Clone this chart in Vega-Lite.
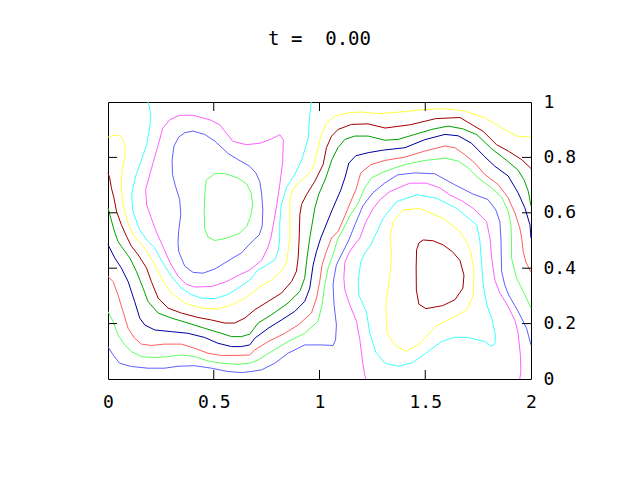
{
  "$schema": "https://vega.github.io/schema/vega-lite/v6.json",
  "width": 423,
  "height": 277,
  "autosize": {"type": "none"},
  "padding": {"left": 108, "top": 102, "right": 109, "bottom": 101},
  "background": "white",
  "title": {"text": "t = \u00a00.00", "font": "DejaVu Sans Mono", "fontSize": 19, "fontWeight": "normal", "color": "black", "anchor": "middle", "offset": 29, "baseline": "alphabetic"},
  "config": {"view": {"stroke": "black", "strokeWidth": 1},
             "axis": {"title": null, "grid": false, "domain": false, "ticks": false, "labelFont": "DejaVu Sans Mono", "labelFontSize": 18, "labelColor": "black", "labelFlush": false}},
  "data": {"values": [
{"c":"g1","i":0,"x":0.505,"y":0.742},{"c":"g1","i":1,"x":0.552,"y":0.742},{"c":"g1","i":2,"x":0.614,"y":0.726},{"c":"g1","i":3,"x":0.656,"y":0.704},{"c":"g1","i":4,"x":0.677,"y":0.672},{"c":"g1","i":5,"x":0.684,"y":0.628},{"c":"g1","i":6,"x":0.675,"y":0.589},{"c":"g1","i":7,"x":0.656,"y":0.552},{"c":"g1","i":8,"x":0.623,"y":0.527},{"c":"g1","i":9,"x":0.566,"y":0.509},{"c":"g1","i":10,"x":0.505,"y":0.5},{"c":"g1","i":11,"x":0.472,"y":0.513},{"c":"g1","i":12,"x":0.457,"y":0.545},{"c":"g1","i":13,"x":0.455,"y":0.603},{"c":"g1","i":14,"x":0.457,"y":0.665},{"c":"g1","i":15,"x":0.465,"y":0.719},{"c":"g1","i":16,"x":0.505,"y":0.742},
{"c":"b1","i":0,"x":0.67,"y":0.768},{"c":"b1","i":1,"x":0.615,"y":0.792},{"c":"b1","i":2,"x":0.568,"y":0.814},{"c":"b1","i":3,"x":0.505,"y":0.859},{"c":"b1","i":4,"x":0.457,"y":0.883},{"c":"b1","i":5,"x":0.402,"y":0.895},{"c":"b1","i":6,"x":0.363,"y":0.889},{"c":"b1","i":7,"x":0.334,"y":0.873},{"c":"b1","i":8,"x":0.312,"y":0.841},{"c":"b1","i":9,"x":0.303,"y":0.792},{"c":"b1","i":10,"x":0.305,"y":0.738},{"c":"b1","i":11,"x":0.319,"y":0.696},{"c":"b1","i":12,"x":0.339,"y":0.648},{"c":"b1","i":13,"x":0.344,"y":0.593},{"c":"b1","i":14,"x":0.334,"y":0.533},{"c":"b1","i":15,"x":0.331,"y":0.491},{"c":"b1","i":16,"x":0.334,"y":0.461},{"c":"b1","i":17,"x":0.363,"y":0.407},{"c":"b1","i":18,"x":0.402,"y":0.385},{"c":"b1","i":19,"x":0.449,"y":0.382},{"c":"b1","i":20,"x":0.505,"y":0.397},{"c":"b1","i":21,"x":0.584,"y":0.434},{"c":"b1","i":22,"x":0.631,"y":0.455},{"c":"b1","i":23,"x":0.661,"y":0.48},{"c":"b1","i":24,"x":0.689,"y":0.502},{"c":"b1","i":25,"x":0.715,"y":0.52},{"c":"b1","i":26,"x":0.729,"y":0.552},{"c":"b1","i":27,"x":0.732,"y":0.61},{"c":"b1","i":28,"x":0.727,"y":0.665},{"c":"b1","i":29,"x":0.718,"y":0.712},{"c":"b1","i":30,"x":0.699,"y":0.744},{"c":"b1","i":31,"x":0.67,"y":0.768},
{"c":"m1","i":0,"x":0.401,"y":0.952},{"c":"m1","i":1,"x":0.481,"y":0.936},{"c":"m1","i":2,"x":0.528,"y":0.918},{"c":"m1","i":3,"x":0.59,"y":0.858},{"c":"m1","i":4,"x":0.654,"y":0.846},{"c":"m1","i":5,"x":0.718,"y":0.851},{"c":"m1","i":6,"x":0.774,"y":0.867},{"c":"m1","i":7,"x":0.812,"y":0.882},{"c":"m1","i":8,"x":0.829,"y":0.864},{"c":"m1","i":9,"x":0.826,"y":0.784},{"c":"m1","i":10,"x":0.812,"y":0.701},{"c":"m1","i":11,"x":0.798,"y":0.628},{"c":"m1","i":12,"x":0.784,"y":0.567},{"c":"m1","i":13,"x":0.77,"y":0.509},{"c":"m1","i":14,"x":0.755,"y":0.473},{"c":"m1","i":15,"x":0.727,"y":0.429},{"c":"m1","i":16,"x":0.67,"y":0.393},{"c":"m1","i":17,"x":0.623,"y":0.377},{"c":"m1","i":18,"x":0.561,"y":0.352},{"c":"m1","i":19,"x":0.491,"y":0.334},{"c":"m1","i":20,"x":0.41,"y":0.332},{"c":"m1","i":21,"x":0.368,"y":0.343},{"c":"m1","i":22,"x":0.33,"y":0.372},{"c":"m1","i":23,"x":0.292,"y":0.422},{"c":"m1","i":24,"x":0.263,"y":0.473},{"c":"m1","i":25,"x":0.235,"y":0.52},{"c":"m1","i":26,"x":0.211,"y":0.567},{"c":"m1","i":27,"x":0.183,"y":0.628},{"c":"m1","i":28,"x":0.178,"y":0.683},{"c":"m1","i":29,"x":0.197,"y":0.737},{"c":"m1","i":30,"x":0.228,"y":0.82},{"c":"m1","i":31,"x":0.259,"y":0.905},{"c":"m1","i":32,"x":0.292,"y":0.936},{"c":"m1","i":33,"x":0.339,"y":0.952},{"c":"m1","i":34,"x":0.401,"y":0.952},
{"c":"c1","i":0,"x":0.19,"y":1.0},{"c":"c1","i":1,"x":0.2,"y":0.965},{"c":"c1","i":2,"x":0.2,"y":0.921},{"c":"c1","i":3,"x":0.183,"y":0.846},{"c":"c1","i":4,"x":0.155,"y":0.784},{"c":"c1","i":5,"x":0.131,"y":0.733},{"c":"c1","i":6,"x":0.112,"y":0.668},{"c":"c1","i":7,"x":0.117,"y":0.607},{"c":"c1","i":8,"x":0.136,"y":0.567},{"c":"c1","i":9,"x":0.15,"y":0.538},{"c":"c1","i":10,"x":0.188,"y":0.498},{"c":"c1","i":11,"x":0.221,"y":0.473},{"c":"c1","i":12,"x":0.259,"y":0.419},{"c":"c1","i":13,"x":0.299,"y":0.372},{"c":"c1","i":14,"x":0.346,"y":0.328},{"c":"c1","i":15,"x":0.394,"y":0.305},{"c":"c1","i":16,"x":0.441,"y":0.292},{"c":"c1","i":17,"x":0.505,"y":0.29},{"c":"c1","i":18,"x":0.566,"y":0.305},{"c":"c1","i":19,"x":0.614,"y":0.328},{"c":"c1","i":20,"x":0.67,"y":0.357},{"c":"c1","i":21,"x":0.708,"y":0.393},{"c":"c1","i":22,"x":0.755,"y":0.413},{"c":"c1","i":23,"x":0.789,"y":0.431},{"c":"c1","i":24,"x":0.805,"y":0.462},{"c":"c1","i":25,"x":0.812,"y":0.509},{"c":"c1","i":26,"x":0.812,"y":0.56},{"c":"c1","i":27,"x":0.819,"y":0.628},{"c":"c1","i":28,"x":0.843,"y":0.69},{"c":"c1","i":29,"x":0.883,"y":0.739},{"c":"c1","i":30,"x":0.916,"y":0.791},{"c":"c1","i":31,"x":0.947,"y":0.871},{"c":"c1","i":32,"x":0.954,"y":0.954},{"c":"c1","i":33,"x":0.961,"y":1.0},
{"c":"y1","i":0,"x":0,"y":0.873},{"c":"y1","i":1,"x":0.022,"y":0.879},{"c":"y1","i":2,"x":0.055,"y":0.879},{"c":"y1","i":3,"x":0.071,"y":0.865},{"c":"y1","i":4,"x":0.082,"y":0.835},{"c":"y1","i":5,"x":0.079,"y":0.798},{"c":"y1","i":6,"x":0.066,"y":0.751},{"c":"y1","i":7,"x":0.063,"y":0.69},{"c":"y1","i":8,"x":0.071,"y":0.63},{"c":"y1","i":9,"x":0.095,"y":0.563},{"c":"y1","i":10,"x":0.118,"y":0.522},{"c":"y1","i":11,"x":0.142,"y":0.498},{"c":"y1","i":12,"x":0.174,"y":0.473},{"c":"y1","i":13,"x":0.221,"y":0.413},{"c":"y1","i":14,"x":0.26,"y":0.353},{"c":"y1","i":15,"x":0.3,"y":0.31},{"c":"y1","i":16,"x":0.363,"y":0.274},{"c":"y1","i":17,"x":0.442,"y":0.256},{"c":"y1","i":18,"x":0.52,"y":0.252},{"c":"y1","i":19,"x":0.584,"y":0.268},{"c":"y1","i":20,"x":0.647,"y":0.292},{"c":"y1","i":21,"x":0.708,"y":0.328},{"c":"y1","i":22,"x":0.773,"y":0.358},{"c":"y1","i":23,"x":0.82,"y":0.389},{"c":"y1","i":24,"x":0.844,"y":0.419},{"c":"y1","i":25,"x":0.851,"y":0.461},{"c":"y1","i":26,"x":0.86,"y":0.509},{"c":"y1","i":27,"x":0.86,"y":0.571},{"c":"y1","i":28,"x":0.86,"y":0.654},{"c":"y1","i":29,"x":0.874,"y":0.683},{"c":"y1","i":30,"x":0.899,"y":0.708},{"c":"y1","i":31,"x":0.945,"y":0.737},{"c":"y1","i":32,"x":0.97,"y":0.762},{"c":"y1","i":33,"x":0.986,"y":0.809},{"c":"y1","i":34,"x":1.006,"y":0.877},{"c":"y1","i":35,"x":1.033,"y":0.925},{"c":"y1","i":36,"x":1.072,"y":0.949},{"c":"y1","i":37,"x":1.135,"y":0.961},{"c":"y1","i":38,"x":1.199,"y":0.964},{"c":"y1","i":39,"x":1.277,"y":0.958},{"c":"y1","i":40,"x":1.404,"y":0.965},{"c":"y1","i":41,"x":1.498,"y":0.973},{"c":"y1","i":42,"x":1.593,"y":0.976},{"c":"y1","i":43,"x":1.687,"y":0.967},{"c":"y1","i":44,"x":1.782,"y":0.943},{"c":"y1","i":45,"x":1.861,"y":0.907},{"c":"y1","i":46,"x":1.932,"y":0.877},{"c":"y1","i":47,"x":2.0,"y":0.873},
{"c":"r1","i":0,"x":0,"y":0.744},{"c":"r1","i":1,"x":0.008,"y":0.726},{"c":"r1","i":2,"x":0.016,"y":0.69},{"c":"r1","i":3,"x":0.028,"y":0.654},{"c":"r1","i":4,"x":0.04,"y":0.606},{"c":"r1","i":5,"x":0.063,"y":0.557},{"c":"r1","i":6,"x":0.087,"y":0.516},{"c":"r1","i":7,"x":0.111,"y":0.479},{"c":"r1","i":8,"x":0.142,"y":0.449},{"c":"r1","i":9,"x":0.182,"y":0.401},{"c":"r1","i":10,"x":0.205,"y":0.352},{"c":"r1","i":11,"x":0.237,"y":0.292},{"c":"r1","i":12,"x":0.284,"y":0.256},{"c":"r1","i":13,"x":0.347,"y":0.238},{"c":"r1","i":14,"x":0.426,"y":0.222},{"c":"r1","i":15,"x":0.489,"y":0.213},{"c":"r1","i":16,"x":0.552,"y":0.202},{"c":"r1","i":17,"x":0.599,"y":0.202},{"c":"r1","i":18,"x":0.647,"y":0.22},{"c":"r1","i":19,"x":0.694,"y":0.25},{"c":"r1","i":20,"x":0.757,"y":0.28},{"c":"r1","i":21,"x":0.82,"y":0.31},{"c":"r1","i":22,"x":0.868,"y":0.352},{"c":"r1","i":23,"x":0.891,"y":0.389},{"c":"r1","i":24,"x":0.899,"y":0.437},{"c":"r1","i":25,"x":0.904,"y":0.509},{"c":"r1","i":26,"x":0.907,"y":0.593},{"c":"r1","i":27,"x":0.915,"y":0.63},{"c":"r1","i":28,"x":0.939,"y":0.666},{"c":"r1","i":29,"x":0.978,"y":0.714},{"c":"r1","i":30,"x":1.017,"y":0.774},{"c":"r1","i":31,"x":1.033,"y":0.835},{"c":"r1","i":32,"x":1.057,"y":0.877},{"c":"r1","i":33,"x":1.088,"y":0.901},{"c":"r1","i":34,"x":1.151,"y":0.919},{"c":"r1","i":35,"x":1.23,"y":0.921},{"c":"r1","i":36,"x":1.31,"y":0.906},{"c":"r1","i":37,"x":1.43,"y":0.918},{"c":"r1","i":38,"x":1.55,"y":0.94},{"c":"r1","i":39,"x":1.664,"y":0.944},{"c":"r1","i":40,"x":1.774,"y":0.894},{"c":"r1","i":41,"x":1.837,"y":0.846},{"c":"r1","i":42,"x":1.892,"y":0.823},{"c":"r1","i":43,"x":1.956,"y":0.792},{"c":"r1","i":44,"x":2.0,"y":0.76},
{"c":"g2","i":0,"x":0,"y":0.618},{"c":"g2","i":1,"x":0.013,"y":0.581},{"c":"g2","i":2,"x":0.028,"y":0.539},{"c":"g2","i":3,"x":0.047,"y":0.497},{"c":"g2","i":4,"x":0.063,"y":0.479},{"c":"g2","i":5,"x":0.103,"y":0.437},{"c":"g2","i":6,"x":0.134,"y":0.389},{"c":"g2","i":7,"x":0.166,"y":0.328},{"c":"g2","i":8,"x":0.189,"y":0.28},{"c":"g2","i":9,"x":0.237,"y":0.238},{"c":"g2","i":10,"x":0.3,"y":0.22},{"c":"g2","i":11,"x":0.378,"y":0.202},{"c":"g2","i":12,"x":0.457,"y":0.183},{"c":"g2","i":13,"x":0.536,"y":0.165},{"c":"g2","i":14,"x":0.584,"y":0.153},{"c":"g2","i":15,"x":0.631,"y":0.153},{"c":"g2","i":16,"x":0.67,"y":0.162},{"c":"g2","i":17,"x":0.71,"y":0.202},{"c":"g2","i":18,"x":0.773,"y":0.232},{"c":"g2","i":19,"x":0.851,"y":0.274},{"c":"g2","i":20,"x":0.907,"y":0.316},{"c":"g2","i":21,"x":0.93,"y":0.364},{"c":"g2","i":22,"x":0.941,"y":0.437},{"c":"g2","i":23,"x":0.954,"y":0.509},{"c":"g2","i":24,"x":0.962,"y":0.545},{"c":"g2","i":25,"x":0.978,"y":0.618},{"c":"g2","i":26,"x":0.997,"y":0.668},{"c":"g2","i":27,"x":1.03,"y":0.726},{"c":"g2","i":28,"x":1.058,"y":0.791},{"c":"g2","i":29,"x":1.087,"y":0.835},{"c":"g2","i":30,"x":1.12,"y":0.865},{"c":"g2","i":31,"x":1.167,"y":0.877},{"c":"g2","i":32,"x":1.23,"y":0.877},{"c":"g2","i":33,"x":1.309,"y":0.862},{"c":"g2","i":34,"x":1.372,"y":0.865},{"c":"g2","i":35,"x":1.451,"y":0.883},{"c":"g2","i":36,"x":1.53,"y":0.901},{"c":"g2","i":37,"x":1.608,"y":0.913},{"c":"g2","i":38,"x":1.678,"y":0.903},{"c":"g2","i":39,"x":1.744,"y":0.882},{"c":"g2","i":40,"x":1.814,"y":0.831},{"c":"g2","i":41,"x":1.882,"y":0.791},{"c":"g2","i":42,"x":1.938,"y":0.755},{"c":"g2","i":43,"x":1.967,"y":0.719},{"c":"g2","i":44,"x":1.987,"y":0.678},{"c":"g2","i":45,"x":2.0,"y":0.625},
{"c":"b2","i":0,"x":0,"y":0.485},{"c":"b2","i":1,"x":0.032,"y":0.437},{"c":"b2","i":2,"x":0.063,"y":0.401},{"c":"b2","i":3,"x":0.095,"y":0.352},{"c":"b2","i":4,"x":0.126,"y":0.28},{"c":"b2","i":5,"x":0.15,"y":0.22},{"c":"b2","i":6,"x":0.174,"y":0.195},{"c":"b2","i":7,"x":0.221,"y":0.177},{"c":"b2","i":8,"x":0.3,"y":0.171},{"c":"b2","i":9,"x":0.378,"y":0.165},{"c":"b2","i":10,"x":0.457,"y":0.15},{"c":"b2","i":11,"x":0.52,"y":0.129},{"c":"b2","i":12,"x":0.584,"y":0.117},{"c":"b2","i":13,"x":0.631,"y":0.117},{"c":"b2","i":14,"x":0.67,"y":0.123},{"c":"b2","i":15,"x":0.694,"y":0.147},{"c":"b2","i":16,"x":0.757,"y":0.183},{"c":"b2","i":17,"x":0.82,"y":0.213},{"c":"b2","i":18,"x":0.883,"y":0.244},{"c":"b2","i":19,"x":0.93,"y":0.28},{"c":"b2","i":20,"x":0.954,"y":0.328},{"c":"b2","i":21,"x":0.97,"y":0.412},{"c":"b2","i":22,"x":0.986,"y":0.461},{"c":"b2","i":23,"x":1.006,"y":0.509},{"c":"b2","i":24,"x":1.025,"y":0.545},{"c":"b2","i":25,"x":1.058,"y":0.607},{"c":"b2","i":26,"x":1.101,"y":0.683},{"c":"b2","i":27,"x":1.12,"y":0.726},{"c":"b2","i":28,"x":1.139,"y":0.78},{"c":"b2","i":29,"x":1.172,"y":0.806},{"c":"b2","i":30,"x":1.23,"y":0.817},{"c":"b2","i":31,"x":1.299,"y":0.826},{"c":"b2","i":32,"x":1.404,"y":0.835},{"c":"b2","i":33,"x":1.498,"y":0.864},{"c":"b2","i":34,"x":1.593,"y":0.883},{"c":"b2","i":35,"x":1.656,"y":0.878},{"c":"b2","i":36,"x":1.719,"y":0.851},{"c":"b2","i":37,"x":1.782,"y":0.802},{"c":"b2","i":38,"x":1.829,"y":0.768},{"c":"b2","i":39,"x":1.892,"y":0.733},{"c":"b2","i":40,"x":1.939,"y":0.672},{"c":"b2","i":41,"x":1.971,"y":0.618},{"c":"b2","i":42,"x":1.995,"y":0.557},{"c":"b2","i":43,"x":2.0,"y":0.509},
{"c":"r2","i":0,"x":0,"y":0.37},{"c":"r2","i":1,"x":0.024,"y":0.352},{"c":"r2","i":2,"x":0.047,"y":0.304},{"c":"r2","i":3,"x":0.071,"y":0.244},{"c":"r2","i":4,"x":0.095,"y":0.183},{"c":"r2","i":5,"x":0.126,"y":0.147},{"c":"r2","i":6,"x":0.158,"y":0.126},{"c":"r2","i":7,"x":0.205,"y":0.121},{"c":"r2","i":8,"x":0.268,"y":0.126},{"c":"r2","i":9,"x":0.347,"y":0.126},{"c":"r2","i":10,"x":0.41,"y":0.111},{"c":"r2","i":11,"x":0.473,"y":0.093},{"c":"r2","i":12,"x":0.536,"y":0.085},{"c":"r2","i":13,"x":0.615,"y":0.085},{"c":"r2","i":14,"x":0.67,"y":0.087},{"c":"r2","i":15,"x":0.694,"y":0.105},{"c":"r2","i":16,"x":0.757,"y":0.135},{"c":"r2","i":17,"x":0.836,"y":0.165},{"c":"r2","i":18,"x":0.899,"y":0.195},{"c":"r2","i":19,"x":0.962,"y":0.238},{"c":"r2","i":20,"x":0.986,"y":0.292},{"c":"r2","i":21,"x":1.001,"y":0.352},{"c":"r2","i":22,"x":1.012,"y":0.412},{"c":"r2","i":23,"x":1.033,"y":0.461},{"c":"r2","i":24,"x":1.057,"y":0.509},{"c":"r2","i":25,"x":1.088,"y":0.533},{"c":"r2","i":26,"x":1.12,"y":0.589},{"c":"r2","i":27,"x":1.143,"y":0.632},{"c":"r2","i":28,"x":1.172,"y":0.683},{"c":"r2","i":29,"x":1.195,"y":0.744},{"c":"r2","i":30,"x":1.243,"y":0.774},{"c":"r2","i":31,"x":1.309,"y":0.789},{"c":"r2","i":32,"x":1.404,"y":0.801},{"c":"r2","i":33,"x":1.498,"y":0.823},{"c":"r2","i":34,"x":1.593,"y":0.841},{"c":"r2","i":35,"x":1.64,"y":0.835},{"c":"r2","i":36,"x":1.687,"y":0.81},{"c":"r2","i":37,"x":1.734,"y":0.78},{"c":"r2","i":38,"x":1.782,"y":0.738},{"c":"r2","i":39,"x":1.845,"y":0.702},{"c":"r2","i":40,"x":1.892,"y":0.654},{"c":"r2","i":41,"x":1.924,"y":0.599},{"c":"r2","i":42,"x":1.947,"y":0.545},{"c":"r2","i":43,"x":1.956,"y":0.509},{"c":"r2","i":44,"x":1.963,"y":0.461},{"c":"r2","i":45,"x":1.976,"y":0.422},{"c":"r2","i":46,"x":2.0,"y":0.386},
{"c":"g3","i":0,"x":0,"y":0.244},{"c":"g3","i":1,"x":0.024,"y":0.208},{"c":"g3","i":2,"x":0.047,"y":0.159},{"c":"g3","i":3,"x":0.079,"y":0.123},{"c":"g3","i":4,"x":0.111,"y":0.099},{"c":"g3","i":5,"x":0.158,"y":0.081},{"c":"g3","i":6,"x":0.221,"y":0.077},{"c":"g3","i":7,"x":0.284,"y":0.081},{"c":"g3","i":8,"x":0.347,"y":0.087},{"c":"g3","i":9,"x":0.41,"y":0.081},{"c":"g3","i":10,"x":0.473,"y":0.065},{"c":"g3","i":11,"x":0.536,"y":0.057},{"c":"g3","i":12,"x":0.615,"y":0.053},{"c":"g3","i":13,"x":0.67,"y":0.057},{"c":"g3","i":14,"x":0.71,"y":0.069},{"c":"g3","i":15,"x":0.773,"y":0.099},{"c":"g3","i":16,"x":0.851,"y":0.135},{"c":"g3","i":17,"x":0.93,"y":0.165},{"c":"g3","i":18,"x":0.993,"y":0.208},{"c":"g3","i":19,"x":1.012,"y":0.268},{"c":"g3","i":20,"x":1.025,"y":0.34},{"c":"g3","i":21,"x":1.041,"y":0.401},{"c":"g3","i":22,"x":1.064,"y":0.449},{"c":"g3","i":23,"x":1.088,"y":0.509},{"c":"g3","i":24,"x":1.11,"y":0.538},{"c":"g3","i":25,"x":1.143,"y":0.589},{"c":"g3","i":26,"x":1.181,"y":0.632},{"c":"g3","i":27,"x":1.214,"y":0.69},{"c":"g3","i":28,"x":1.246,"y":0.726},{"c":"g3","i":29,"x":1.293,"y":0.744},{"c":"g3","i":30,"x":1.347,"y":0.76},{"c":"g3","i":31,"x":1.404,"y":0.774},{"c":"g3","i":32,"x":1.498,"y":0.789},{"c":"g3","i":33,"x":1.593,"y":0.797},{"c":"g3","i":34,"x":1.656,"y":0.787},{"c":"g3","i":35,"x":1.703,"y":0.762},{"c":"g3","i":36,"x":1.75,"y":0.726},{"c":"g3","i":37,"x":1.814,"y":0.69},{"c":"g3","i":38,"x":1.861,"y":0.657},{"c":"g3","i":39,"x":1.892,"y":0.606},{"c":"g3","i":40,"x":1.905,"y":0.557},{"c":"g3","i":41,"x":1.908,"y":0.502},{"c":"g3","i":42,"x":1.908,"y":0.437},{"c":"g3","i":43,"x":1.932,"y":0.364},{"c":"g3","i":44,"x":1.971,"y":0.304},{"c":"g3","i":45,"x":2.0,"y":0.256},
{"c":"b3","i":0,"x":0,"y":0.117},{"c":"b3","i":1,"x":0.024,"y":0.087},{"c":"b3","i":2,"x":0.055,"y":0.057},{"c":"b3","i":3,"x":0.111,"y":0.045},{"c":"b3","i":4,"x":0.189,"y":0.039},{"c":"b3","i":5,"x":0.268,"y":0.039},{"c":"b3","i":6,"x":0.331,"y":0.046},{"c":"b3","i":7,"x":0.41,"y":0.048},{"c":"b3","i":8,"x":0.489,"y":0.039},{"c":"b3","i":9,"x":0.568,"y":0.027},{"c":"b3","i":10,"x":0.631,"y":0.023},{"c":"b3","i":11,"x":0.684,"y":0.028},{"c":"b3","i":12,"x":0.726,"y":0.033},{"c":"b3","i":13,"x":0.789,"y":0.057},{"c":"b3","i":14,"x":0.851,"y":0.093},{"c":"b3","i":15,"x":0.93,"y":0.123},{"c":"b3","i":16,"x":1.009,"y":0.123},{"c":"b3","i":17,"x":1.064,"y":0.121},{"c":"b3","i":18,"x":1.076,"y":0.141},{"c":"b3","i":19,"x":1.08,"y":0.195},{"c":"b3","i":20,"x":1.069,"y":0.268},{"c":"b3","i":21,"x":1.064,"y":0.339},{"c":"b3","i":22,"x":1.068,"y":0.364},{"c":"b3","i":23,"x":1.08,"y":0.412},{"c":"b3","i":24,"x":1.112,"y":0.461},{"c":"b3","i":25,"x":1.139,"y":0.502},{"c":"b3","i":26,"x":1.167,"y":0.556},{"c":"b3","i":27,"x":1.205,"y":0.625},{"c":"b3","i":28,"x":1.252,"y":0.672},{"c":"b3","i":29,"x":1.309,"y":0.708},{"c":"b3","i":30,"x":1.37,"y":0.737},{"c":"b3","i":31,"x":1.451,"y":0.744},{"c":"b3","i":32,"x":1.545,"y":0.741},{"c":"b3","i":33,"x":1.64,"y":0.701},{"c":"b3","i":34,"x":1.725,"y":0.668},{"c":"b3","i":35,"x":1.796,"y":0.648},{"c":"b3","i":36,"x":1.834,"y":0.61},{"c":"b3","i":37,"x":1.853,"y":0.567},{"c":"b3","i":38,"x":1.858,"y":0.502},{"c":"b3","i":39,"x":1.861,"y":0.389},{"c":"b3","i":40,"x":1.876,"y":0.339},{"c":"b3","i":41,"x":1.895,"y":0.303},{"c":"b3","i":42,"x":1.94,"y":0.243},{"c":"b3","i":43,"x":1.979,"y":0.183},{"c":"b3","i":44,"x":2.0,"y":0.123},
{"c":"m2","i":0,"x":1.219,"y":0},{"c":"m2","i":1,"x":1.214,"y":0.014},{"c":"m2","i":2,"x":1.206,"y":0.05},{"c":"m2","i":3,"x":1.2,"y":0.086},{"c":"m2","i":4,"x":1.191,"y":0.14},{"c":"m2","i":5,"x":1.175,"y":0.208},{"c":"m2","i":6,"x":1.143,"y":0.268},{"c":"m2","i":7,"x":1.12,"y":0.321},{"c":"m2","i":8,"x":1.115,"y":0.364},{"c":"m2","i":9,"x":1.12,"y":0.422},{"c":"m2","i":10,"x":1.143,"y":0.461},{"c":"m2","i":11,"x":1.172,"y":0.491},{"c":"m2","i":12,"x":1.191,"y":0.509},{"c":"m2","i":13,"x":1.219,"y":0.567},{"c":"m2","i":14,"x":1.254,"y":0.616},{"c":"m2","i":15,"x":1.29,"y":0.65},{"c":"m2","i":16,"x":1.333,"y":0.677},{"c":"m2","i":17,"x":1.427,"y":0.707},{"c":"m2","i":18,"x":1.506,"y":0.707},{"c":"m2","i":19,"x":1.569,"y":0.69},{"c":"m2","i":20,"x":1.616,"y":0.665},{"c":"m2","i":21,"x":1.673,"y":0.643},{"c":"m2","i":22,"x":1.727,"y":0.616},{"c":"m2","i":23,"x":1.79,"y":0.568},{"c":"m2","i":24,"x":1.806,"y":0.509},{"c":"m2","i":25,"x":1.814,"y":0.437},{"c":"m2","i":26,"x":1.829,"y":0.357},{"c":"m2","i":27,"x":1.853,"y":0.31},{"c":"m2","i":28,"x":1.891,"y":0.263},{"c":"m2","i":29,"x":1.924,"y":0.212},{"c":"m2","i":30,"x":1.939,"y":0.165},{"c":"m2","i":31,"x":1.95,"y":0.086},{"c":"m2","i":32,"x":1.952,"y":0.028},{"c":"m2","i":33,"x":1.947,"y":0},
{"c":"c2","i":0,"x":1.459,"y":0.665},{"c":"c2","i":1,"x":1.553,"y":0.653},{"c":"c2","i":2,"x":1.648,"y":0.616},{"c":"c2","i":3,"x":1.743,"y":0.556},{"c":"c2","i":4,"x":1.758,"y":0.502},{"c":"c2","i":5,"x":1.766,"y":0.422},{"c":"c2","i":6,"x":1.774,"y":0.339},{"c":"c2","i":7,"x":1.791,"y":0.267},{"c":"c2","i":8,"x":1.814,"y":0.22},{"c":"c2","i":9,"x":1.832,"y":0.158},{"c":"c2","i":10,"x":1.829,"y":0.126},{"c":"c2","i":11,"x":1.81,"y":0.118},{"c":"c2","i":12,"x":1.782,"y":0.135},{"c":"c2","i":13,"x":1.703,"y":0.15},{"c":"c2","i":14,"x":1.64,"y":0.151},{"c":"c2","i":15,"x":1.577,"y":0.135},{"c":"c2","i":16,"x":1.514,"y":0.1},{"c":"c2","i":17,"x":1.441,"y":0.059},{"c":"c2","i":18,"x":1.372,"y":0.046},{"c":"c2","i":19,"x":1.309,"y":0.057},{"c":"c2","i":20,"x":1.266,"y":0.097},{"c":"c2","i":21,"x":1.238,"y":0.165},{"c":"c2","i":22,"x":1.222,"y":0.242},{"c":"c2","i":23,"x":1.186,"y":0.303},{"c":"c2","i":24,"x":1.183,"y":0.357},{"c":"c2","i":25,"x":1.195,"y":0.422},{"c":"c2","i":26,"x":1.214,"y":0.455},{"c":"c2","i":27,"x":1.243,"y":0.484},{"c":"c2","i":28,"x":1.262,"y":0.516},{"c":"c2","i":29,"x":1.301,"y":0.58},{"c":"c2","i":30,"x":1.364,"y":0.64},{"c":"c2","i":31,"x":1.459,"y":0.665},
{"c":"y2","i":0,"x":1.474,"y":0.616},{"c":"y2","i":1,"x":1.585,"y":0.58},{"c":"y2","i":2,"x":1.664,"y":0.532},{"c":"y2","i":3,"x":1.695,"y":0.496},{"c":"y2","i":4,"x":1.716,"y":0.458},{"c":"y2","i":5,"x":1.73,"y":0.393},{"c":"y2","i":6,"x":1.728,"y":0.303},{"c":"y2","i":7,"x":1.697,"y":0.249},{"c":"y2","i":8,"x":1.631,"y":0.223},{"c":"y2","i":9,"x":1.55,"y":0.191},{"c":"y2","i":10,"x":1.474,"y":0.127},{"c":"y2","i":11,"x":1.408,"y":0.1},{"c":"y2","i":12,"x":1.356,"y":0.122},{"c":"y2","i":13,"x":1.318,"y":0.169},{"c":"y2","i":14,"x":1.314,"y":0.27},{"c":"y2","i":15,"x":1.333,"y":0.375},{"c":"y2","i":16,"x":1.341,"y":0.448},{"c":"y2","i":17,"x":1.333,"y":0.509},{"c":"y2","i":18,"x":1.348,"y":0.568},{"c":"y2","i":19,"x":1.395,"y":0.61},{"c":"y2","i":20,"x":1.474,"y":0.616},
{"c":"r3","i":0,"x":1.49,"y":0.502},{"c":"r3","i":1,"x":1.537,"y":0.499},{"c":"r3","i":2,"x":1.585,"y":0.484},{"c":"r3","i":3,"x":1.628,"y":0.46},{"c":"r3","i":4,"x":1.664,"y":0.428},{"c":"r3","i":5,"x":1.683,"y":0.375},{"c":"r3","i":6,"x":1.678,"y":0.328},{"c":"r3","i":7,"x":1.64,"y":0.286},{"c":"r3","i":8,"x":1.583,"y":0.265},{"c":"r3","i":9,"x":1.503,"y":0.254},{"c":"r3","i":10,"x":1.47,"y":0.27},{"c":"r3","i":11,"x":1.458,"y":0.321},{"c":"r3","i":12,"x":1.457,"y":0.401},{"c":"r3","i":13,"x":1.459,"y":0.466},{"c":"r3","i":14,"x":1.47,"y":0.491},{"c":"r3","i":15,"x":1.49,"y":0.502}
  ]},
  "layer": [
    {
      "mark": {"type": "line", "strokeWidth": 1, "interpolate": "linear"},
      "encoding": {
        "x": {"field": "x", "type": "quantitative", "title": null, "scale": {"domain": [0, 2], "nice": false, "zero": false},
              "axis": {"orient": "bottom", "values": [0, 0.5, 1, 1.5, 2], "labelExpr": "'' + datum.value", "labelPadding": 14}},
        "y": {"field": "y", "type": "quantitative", "title": null, "scale": {"domain": [0, 1], "nice": false, "zero": false},
              "axis": {"orient": "right", "values": [0, 0.2, 0.4, 0.6, 0.8, 1], "labelExpr": "'' + datum.value", "labelPadding": 12}},
        "color": {"field": "c", "type": "nominal", "legend": null,
                  "scale": {"domain": ["r1","r3","g2","b2","r2","g1","g3","b1","b3","m1","m2","c1","c2","y1","y2"],
                            "range": ["#a00000","#a00000","#00a000","#0000a0","#ff6060","#60ff60","#60ff60","#6060ff","#6060ff","#ff60ff","#ff60ff","#40ffff","#40ffff","#ffff40","#ffff40"]}},
        "order": {"field": "i", "type": "quantitative"}
      }
    },
    {
      "data": {"values": [{"t": 0.5}, {"t": 1}, {"t": 1.5}]},
      "mark": {"type": "rule", "color": "black", "strokeWidth": 1},
      "encoding": {
        "x": {"field": "t", "type": "quantitative", "title": null},
        "y": {"datum": 0, "type": "quantitative", "title": null},
        "y2": {"datum": 0.0326}
      }
    },
    {
      "data": {"values": [{"t": 0.5}, {"t": 1}, {"t": 1.5}]},
      "mark": {"type": "rule", "color": "black", "strokeWidth": 1},
      "encoding": {
        "x": {"field": "t", "type": "quantitative", "title": null},
        "y": {"datum": 0.9674, "type": "quantitative", "title": null},
        "y2": {"datum": 1}
      }
    },
    {
      "data": {"values": [{"t": 0.2}, {"t": 0.4}, {"t": 0.6}, {"t": 0.8}]},
      "mark": {"type": "rule", "color": "black", "strokeWidth": 1},
      "encoding": {
        "y": {"field": "t", "type": "quantitative", "title": null},
        "x": {"datum": 0, "type": "quantitative", "title": null},
        "x2": {"datum": 0.0426}
      }
    },
    {
      "data": {"values": [{"t": 0.2}, {"t": 0.4}, {"t": 0.6}, {"t": 0.8}]},
      "mark": {"type": "rule", "color": "black", "strokeWidth": 1},
      "encoding": {
        "y": {"field": "t", "type": "quantitative", "title": null},
        "x": {"datum": 1.9574, "type": "quantitative", "title": null},
        "x2": {"datum": 2}
      }
    }
  ]
}
